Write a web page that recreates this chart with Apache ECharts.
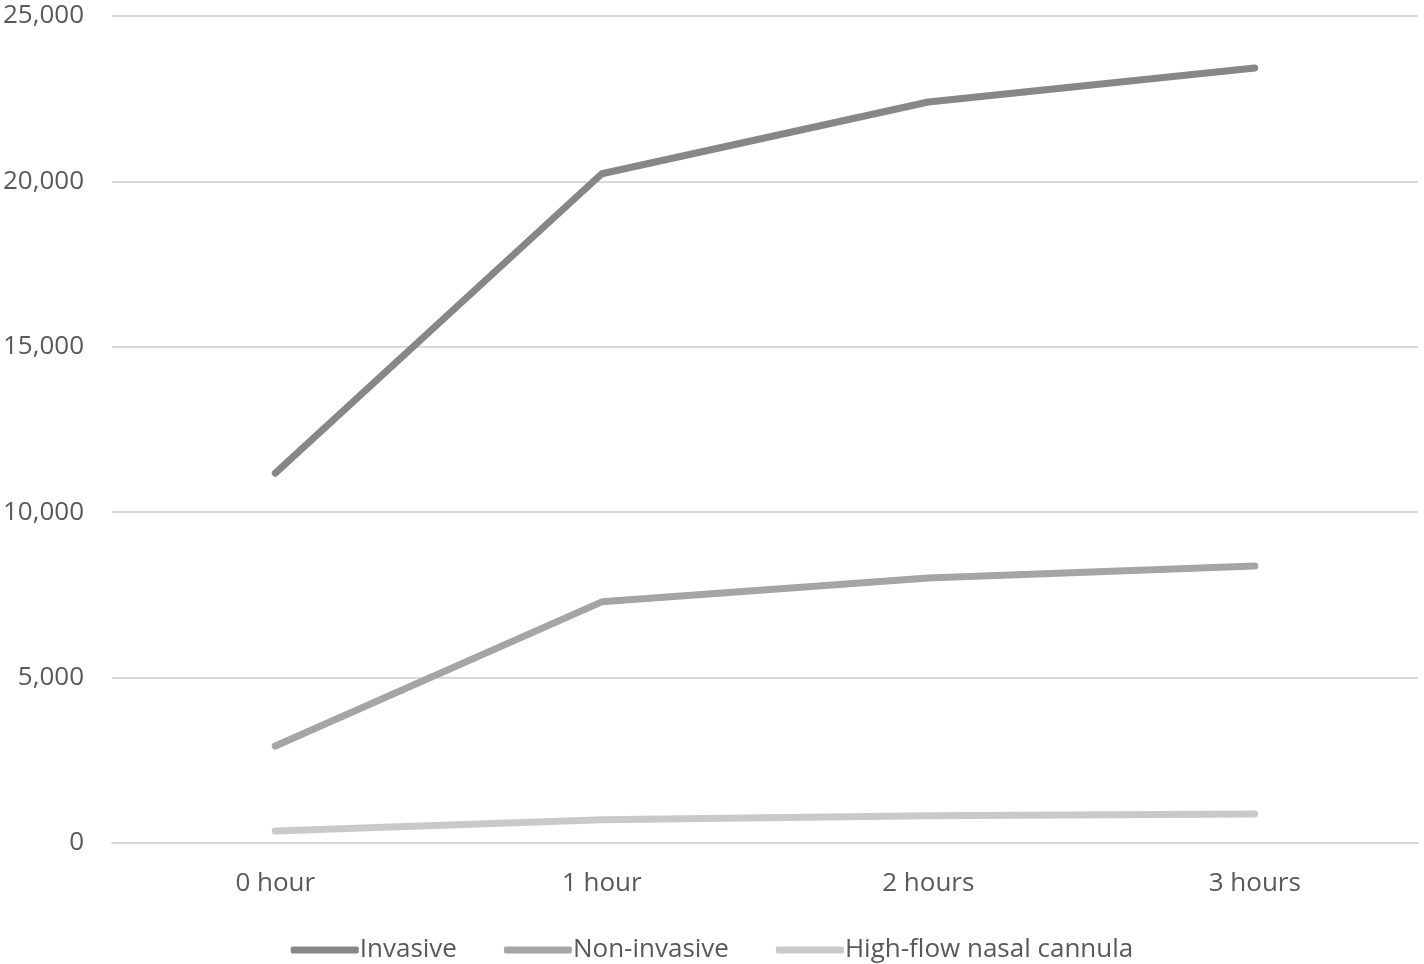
<!DOCTYPE html>
<html>
<head>
<meta charset="utf-8">
<style>html,body{margin:0;padding:0;background:#fff;}#c{width:1424px;height:964px;}</style>
<script src="https://cdn.jsdelivr.net/npm/echarts@6/dist/echarts.min.js"></script>
</head>
<body>
<div id="c"></div>
<script>
const categories = ['0 hour', '1 hour', '2 hours', '3 hours'];
const invasive = [11180, 20230, 22400, 23430];
const nonInvasive = [2930, 7290, 8010, 8370];
const highFlow = [360, 700, 820, 880];
const seriesNames = ['Invasive', 'Non-invasive', 'High-flow nasal cannula'];
const colors = ['#878787', '#a5a5a5', '#c9c9c9'];

const chart = echarts.init(document.getElementById('c'), null, {renderer: 'canvas'});
const font = '"Open Sans", sans-serif';
function mk(name, data, color) {
  return {
    name: name, type: 'line', data: data, symbol: 'none', smooth: false,
    lineStyle: {color: color, width: 7, cap: 'round', join: 'round'},
    itemStyle: {color: color}
  };
}
chart.setOption({
  animation: false,
  backgroundColor: '#fff',
  grid: {left: 110, right: 6, top: 16, bottom: 121, containLabel: false},
  xAxis: {
    type: 'category', data: categories, boundaryGap: true,
    axisLine: {show: true, lineStyle: {color: '#d9d9d9', width: 2}},
    axisTick: {show: false},
    axisLabel: {color: '#595959', fontSize: 26, fontFamily: font, margin: 28}
  },
  yAxis: {
    type: 'value', min: 0, max: 25000, interval: 5000,
    axisLine: {show: false}, axisTick: {show: false},
    splitLine: {lineStyle: {color: '#d9d9d9', width: 2}},
    axisLabel: {color: '#595959', fontSize: 26, fontFamily: font, margin: 28,
      formatter: v => v.toLocaleString('en-US')}
  },
  legend: {
    bottom: -4, left: 'center', itemWidth: 68, itemHeight: 7, itemGap: 47,
    icon: 'roundRect',
    textStyle: {color: '#595959', fontSize: 26, fontFamily: font, padding: [0,0,0,-4]},
    data: seriesNames
  },
  series: [
    mk(seriesNames[0], invasive, colors[0]),
    mk(seriesNames[1], nonInvasive, colors[1]),
    mk(seriesNames[2], highFlow, colors[2])
  ]
});
</script>
</body>
</html>
